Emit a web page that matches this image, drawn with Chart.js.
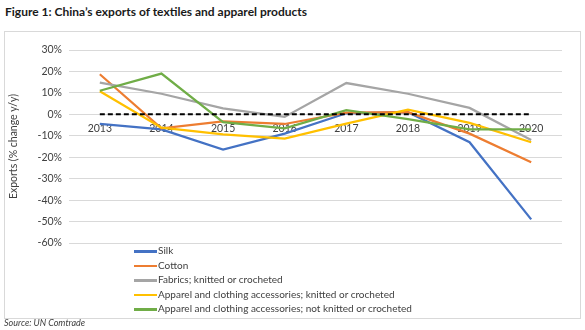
<!DOCTYPE html>
<html>
<head>
<meta charset="utf-8">
<script src="https://cdn.jsdelivr.net/npm/chart.js@4.4.1/dist/chart.umd.min.js"></script>
<style>
  body { margin: 0; background: #fff; width: 585px; height: 330px; overflow: hidden;
         font-family: Lato, 'DejaVu Sans Condensed', sans-serif; }
  #title { position: absolute; left: 5px; top: 4px; font-size: 12px; font-weight: bold; color: #1a1a1a; }
  #box { position: absolute; left: 4px; top: 31px; width: 575px; height: 286px; border: 1px solid #d9d9d9; }
  #legend { position: absolute; left: 129px; top: 211px; font-size: 10px; color: #404040; }
  .item { height: 14.5px; line-height: 14.5px; white-space: nowrap; }
  .swatch { display: inline-block; width: 23px; height: 2.5px; vertical-align: middle; margin-right: 1px; }
  #source { position: absolute; left: 4px; top: 317px; font-size: 9px; font-style: italic; color: #404040; }
</style>
</head>
<body>
<div id="title">Figure 1: China’s exports of textiles and apparel products</div>
<div id="box">
  <canvas id="chart" width="575" height="286"></canvas>
  <div id="legend"></div>
</div>
<div id="source">Source: UN Comtrade</div>

<script>
// Year-on-year change in exports, %
const years = ['2013', '2014', '2015', '2016', '2017', '2018', '2019', '2020'];

const silk       = [-4.5, -7, -16.4, -9, 0.5, 1, -13, -49];
const cotton     = [18.7, -6.5, -3.3, -4.5, 0.8, 1, -9, -22.3];
const fabrics    = [14.8, 9.6, 2.8, -1.2, 14.6, 9.6, 3, -12];
const knitted    = [10.8, -6.2, -9.3, -11.3, -4.3, 2.2, -4, -13];
const notKnitted = [11, 19, -3.6, -6.5, 1.9, -2.2, -7, -7];
const baseline   = [0, 0, 0, 0, 0, 0, 0, 0];

const yTicks = { min: -60, max: 30, step: 10 };

const FONT = "Lato, 'DejaVu Sans Condensed', sans-serif";

function series(label, data, color, order) {
    return {
        label: label,
        data: data,
        borderColor: color,
        backgroundColor: color,
        borderWidth: 2.25,
        pointRadius: 0,
        tension: 0,
        order: order
    };
}

const chart = new Chart(document.getElementById('chart'), {
    type: 'line',
    data: {
        labels: years,
        datasets: [
            series('Silk', silk, '#4472c4', 6),
            series('Cotton', cotton, '#ed7d31', 5),
            series('Fabrics; knitted or crocheted', fabrics, '#a5a5a5', 4),
            series('Apparel and clothing accessories; knitted or crocheted', knitted, '#ffc000', 3),
            series('Apparel and clothing accessories; not knitted or crocheted', notKnitted, '#70ad47', 2),
            {
                label: '',
                data: baseline,
                borderColor: '#000',
                borderWidth: 2,
                borderDash: [5, 3],
                pointRadius: 0,
                order: 1
            }
        ]
    },
    options: {
        responsive: false,
        animation: false,
        layout: { padding: { left: 0, top: 18, right: 18, bottom: 75 } },
        plugins: { legend: { display: false }, tooltip: { enabled: false } },
        scales: {
            x: {
                type: 'category',
                position: { y: 0 },
                offset: true,
                grid: { display: false, drawTicks: false },
                border: { display: false },
                ticks: {
                    color: '#404040',
                    padding: 8,
                    maxRotation: 0,
                    font: { family: FONT, size: 10.5 }
                }
            },
            y: {
                min: yTicks.min,
                max: yTicks.max,
                afterFit: s => { s.width = 64; },
                grid: { color: '#d9d9d9', drawTicks: false },
                border: { display: false },
                ticks: {
                    stepSize: yTicks.step,
                    padding: 7,
                    color: '#404040',
                    font: { family: FONT, size: 10.5 },
                    callback: v => v + '%'
                },
                title: {
                    display: true,
                    text: 'Exports (% change y/y)',
                    color: '#404040',
                    padding: { top: 2, bottom: 0 },
                    font: { family: FONT, size: 10.5 }
                }
            }
        }
    }
});

// legend as a vertical list below the plot, like the original
const legend = document.getElementById('legend');
chart.data.datasets.filter(d => d.label).forEach(d => {
    const row = document.createElement('div');
    row.className = 'item';
    row.innerHTML = '<span class="swatch" style="background:' + d.borderColor + '"></span>' + d.label;
    legend.appendChild(row);
});
</script>
</body>
</html>
